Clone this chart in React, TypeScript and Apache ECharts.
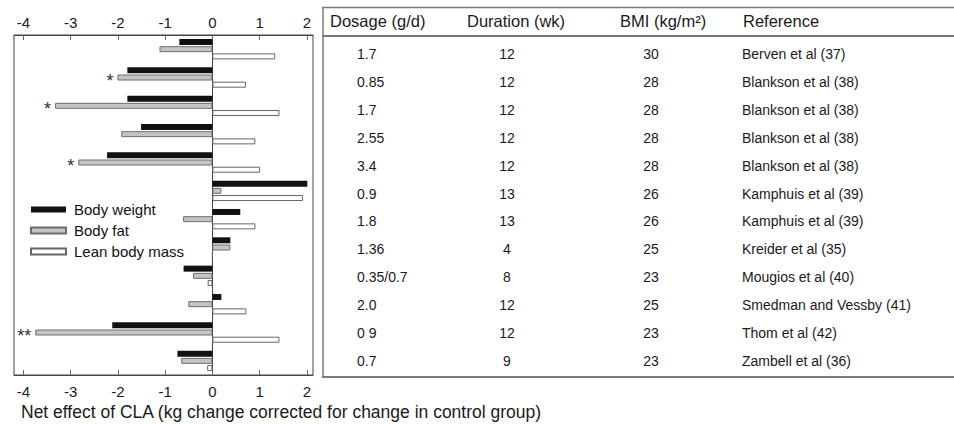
import React, { useEffect, useRef } from 'react';
import * as echarts from 'echarts';

const studies = [
  'Berven et al (37)',
  'Blankson et al (38)',
  'Blankson et al (38)',
  'Blankson et al (38)',
  'Blankson et al (38)',
  'Kamphuis et al (39)',
  'Kamphuis et al (39)',
  'Kreider et al (35)',
  'Mougios et al (40)',
  'Smedman and Vessby (41)',
  'Thom et al (42)',
  'Zambell et al (36)',
];
const dosage = ['1.7', '0.85', '1.7', '2.55', '3.4', '0.9', '1.8', '1.36', '0.35/0.7', '2.0', '0 9', '0.7'];
const duration = ['12', '12', '12', '12', '12', '13', '13', '4', '8', '12', '12', '9'];
const bmi = ['30', '28', '28', '28', '28', '26', '26', '25', '23', '25', '23', '23'];

const bodyWeight = [-0.7, -1.8, -1.8, -1.51, -2.23, 2.01, 0.59, 0.38, -0.61, 0.19, -2.12, -0.74];
const bodyFat = [-1.12, -2.01, -3.33, -1.93, -2.84, 0.19, -0.62, 0.38, -0.41, -0.51, -3.75, -0.66];
const leanMass = [1.33, 0.71, 1.42, 0.91, 1.01, 1.92, 0.91, 0, -0.1, 0.72, 1.42, -0.11];
const significance = ['', '*', '*', '', '*', '', '', '', '', '', '**', ''];

const xTicks = [-4, -3, -2, -1, 0, 1, 2];
const headers = ['Dosage (g/d)', 'Duration (wk)', 'BMI (kg/m\u00b2)', 'Reference'];
const xTitle = 'Net effect of CLA (kg change corrected for change in control group)';

const FONT = '"Liberation Sans", Arial, Helvetica, sans-serif';

export default function App() {
  const ref = useRef<HTMLDivElement>(null);

  useEffect(() => {
    if (!ref.current) return;
    const chart = echarts.init(ref.current, null, { renderer: 'svg' });

    const rowY = (i: number) => 54 + i * 27.9;
    const headerX = [330, 467, 620, 743];
    const tableGraphics: any[] = [];
    const txt = (text: string, x: number, y: number, size: number, align: string) => ({
      type: 'text',
      x,
      y,
      silent: true,
      style: {
        text,
        fontSize: size,
        fontFamily: FONT,
        fill: '#1a1a1a',
        textAlign: align,
        textVerticalAlign: 'middle',
        align,
        verticalAlign: 'middle',
      },
    });
    headers.forEach((h, k) => tableGraphics.push(txt(h, headerX[k], 21, 16.5, 'left')));
    studies.forEach((s, i) => {
      const y = rowY(i);
      tableGraphics.push(txt(dosage[i], 357, y, 14, 'left'));
      tableGraphics.push(txt(duration[i], 507, y, 14, 'center'));
      tableGraphics.push(txt(bmi[i], 651, y, 14, 'center'));
      tableGraphics.push(txt(s, 742, y, 14, 'left'));
    });
    const ln = (x1: number, y1: number, x2: number, y2: number, w: number) => ({
      type: 'line',
      silent: true,
      shape: { x1, y1, x2, y2 },
      style: { stroke: '#7a7a7a', lineWidth: w },
    });
    tableGraphics.push(ln(322, 7.5, 954, 7.5, 1.5));
    tableGraphics.push(ln(322, 36, 954, 36, 2));
    tableGraphics.push(ln(322, 377, 954, 377, 2));
    tableGraphics.push(ln(323, 7, 323, 378, 1.5));
    tableGraphics.push(txt(xTitle, 21, 412, 17.5, 'left'));

    const xAxisBase = {
      type: 'value',
      min: -4.2,
      max: 2.13,
      splitLine: { show: false },
      axisLine: { show: true, onZero: false, lineStyle: { color: '#444', width: 1 } },
      axisTick: {
        show: true,
        inside: true,
        length: 5,
        customValues: xTicks,
        lineStyle: { color: '#666' },
      },
      axisLabel: {
        customValues: xTicks,
        fontSize: 15,
        color: '#1a1a1a',
        fontFamily: FONT,
        formatter: (v: number) => String(v),
      },
    };

    chart.setOption({
      animation: false,
      backgroundColor: '#ffffff',
      textStyle: { fontFamily: FONT },
      grid: {
        left: 14,
        right: 641,
        top: 35,
        bottom: 49,
        show: true,
        borderColor: '#444',
        borderWidth: 1,
        backgroundColor: 'transparent',
      },
      legend: {
        data: ['Body weight', 'Body fat', 'Lean body mass'],
        orient: 'vertical',
        left: 30,
        top: 202,
        padding: 0,
        itemWidth: 35,
        itemHeight: 6,
        itemGap: 6,
        icon: 'rect',
        selectedMode: false,
        textStyle: { fontSize: 15, color: '#111', lineHeight: 15, fontFamily: FONT, padding: [0, 0, 0, 3] },
      },
      xAxis: [
        { ...xAxisBase, position: 'bottom', axisLabel: { ...xAxisBase.axisLabel, margin: 9 } },
        { ...xAxisBase, position: 'top', axisLabel: { ...xAxisBase.axisLabel, margin: 5 } },
      ],
      yAxis: {
        type: 'category',
        data: studies,
        inverse: true,
        axisLabel: { show: false },
        axisTick: { show: false },
        axisLine: { show: true, onZero: true, lineStyle: { color: '#444', width: 1 } },
      },
      series: [
        {
          name: 'Body weight',
          type: 'bar',
          data: bodyWeight,
          barWidth: 6,
          barGap: '20%',
          itemStyle: { color: '#111' },
        },
        {
          name: 'Body fat',
          type: 'bar',
          barWidth: 6,
          barGap: '20%',
          data: bodyFat.map((v, i) => ({
            value: v,
            label: {
              show: !!significance[i],
              formatter: significance[i] || '',
              position: 'left',
              distance: 4,
              offset: [0, 3],
              fontSize: 18,
              color: '#333',
              fontFamily: FONT,
            },
          })),
          itemStyle: { color: '#c4c4c4', borderColor: '#6e6e6e', borderWidth: 1 },
        },
        {
          name: 'Lean body mass',
          type: 'bar',
          data: leanMass,
          barWidth: 6,
          barGap: '20%',
          itemStyle: { color: '#ffffff', borderColor: '#666', borderWidth: 1 },
        },
      ],
      graphic: tableGraphics,
    });

    return () => chart.dispose();
  }, []);

  return (
    <div
      ref={ref}
      style={{ position: 'fixed', left: 0, top: 0, width: 954, height: 424, background: '#fff' }}
    />
  );
}
